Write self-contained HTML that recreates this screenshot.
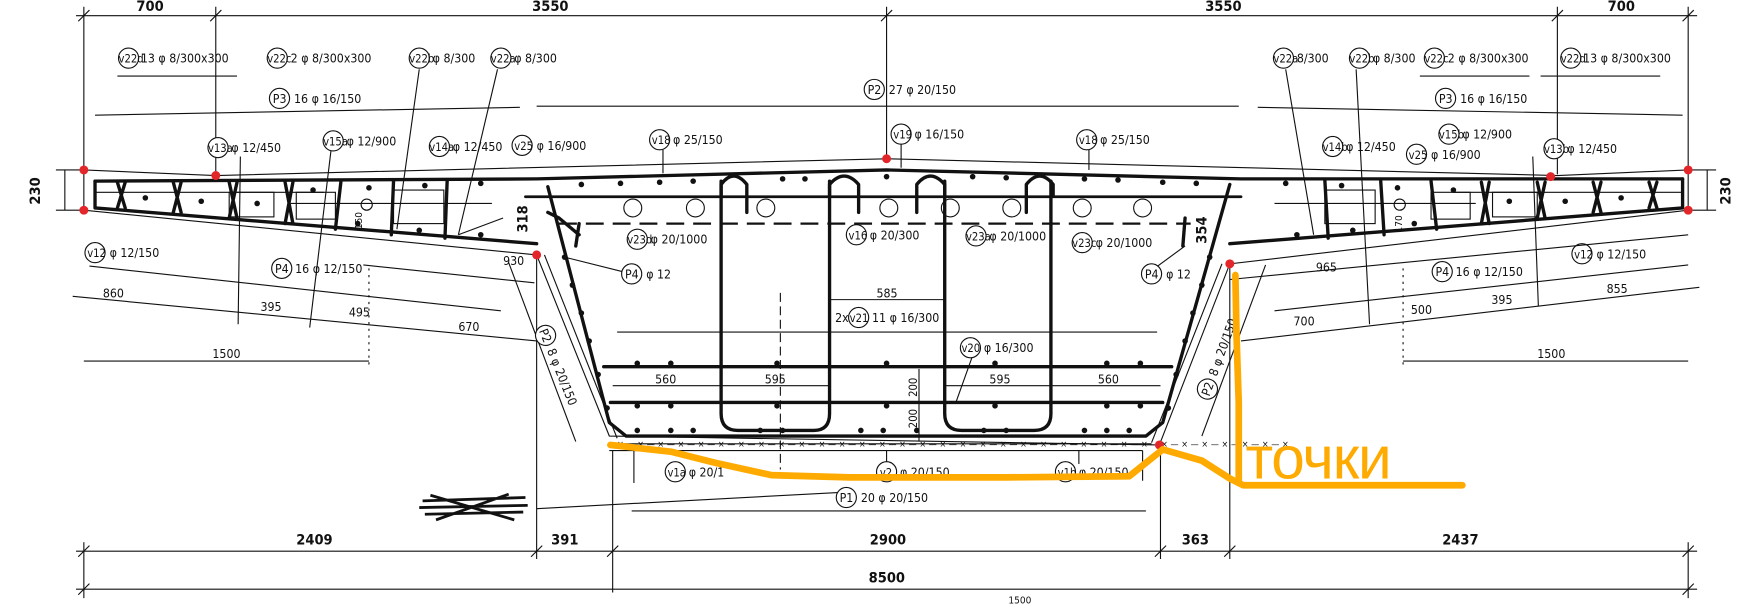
<!DOCTYPE html>
<html><head><meta charset="utf-8"><style>
html,body{margin:0;padding:0;background:#fff;}
svg{display:block;}
text{font-family:"DejaVu Sans Condensed","Liberation Sans",sans-serif;font-size:11px;fill:#111;}
.t{stroke:#111;stroke-width:1;fill:none;}
.k{stroke:#111;stroke-width:3;fill:none;stroke-linecap:round;stroke-linejoin:round;}
.c{stroke:#111;stroke-width:1;fill:#fff;}
.d{fill:#111;}
.r{fill:#e3262a;}
.o{stroke:#FFAA00;stroke-width:6;fill:none;stroke-linecap:round;stroke-linejoin:round;}
.big{font-size:13px;font-weight:bold;}
</style></head><body>
<svg width="1753" height="606" viewBox="0 0 1753 606" xmlns="http://www.w3.org/2000/svg">
<rect width="1753" height="606" fill="#fff"/>
<g transform="scale(1.118)">
<!-- top dimension -->
<line class="t" x1="68" y1="14" x2="1518" y2="14"/>
<g class="t">
<line x1="75" y1="6" x2="75" y2="150"/><line x1="193" y1="6" x2="193" y2="155"/>
<line x1="793" y1="6" x2="793" y2="140"/><line x1="1393" y1="6" x2="1393" y2="156"/>
<line x1="1510" y1="6" x2="1510" y2="150"/>
<line x1="70" y1="19" x2="80" y2="9"/><line x1="188" y1="19" x2="198" y2="9"/><line x1="788" y1="19" x2="798" y2="9"/><line x1="1388" y1="19" x2="1398" y2="9"/><line x1="1505" y1="19" x2="1515" y2="9"/>
</g>
<text x="122" y="10" class="big">700</text><text x="476" y="10" class="big">3550</text><text x="1078" y="10" class="big">3550</text><text x="1438" y="10" class="big">700</text>

<!-- top labels -->
<g>
<circle class="c" cx="115" cy="52" r="9"/><text x="106" y="56" style="font-size:10px">v22d</text><text x="126" y="56">13 φ 8/300x300</text>
<circle class="c" cx="248" cy="52" r="9"/><text x="239" y="56" style="font-size:10px">v22c</text><text x="260" y="56">2 φ 8/300x300</text>
<circle class="c" cx="375" cy="52" r="9"/><text x="366" y="56" style="font-size:10px">v22b</text><text x="387" y="56">φ 8/300</text>
<circle class="c" cx="448" cy="52" r="9"/><text x="439" y="56" style="font-size:10px">v22a</text><text x="460" y="56">φ 8/300</text>
<circle class="c" cx="1148" cy="52" r="9"/><text x="1139" y="56" style="font-size:10px">v22a</text><text x="1160" y="56">8/300</text>
<circle class="c" cx="1216" cy="52" r="9"/><text x="1207" y="56" style="font-size:10px">v22b</text><text x="1228" y="56">φ 8/300</text>
<circle class="c" cx="1283" cy="52" r="9"/><text x="1274" y="56" style="font-size:10px">v22c</text><text x="1295" y="56">2 φ 8/300x300</text>
<circle class="c" cx="1405" cy="52" r="9"/><text x="1396" y="56" style="font-size:10px">v22d</text><text x="1416" y="56">13 φ 8/300x300</text>
</g>
<g class="t">
<line x1="105" y1="68" x2="212" y2="68"/><line x1="1270" y1="68" x2="1368" y2="68"/><line x1="1378" y1="68" x2="1485" y2="68"/>
<line x1="85" y1="103" x2="465" y2="96"/><line x1="480" y1="95" x2="1108" y2="95"/><line x1="1125" y1="96" x2="1505" y2="103"/>
<line x1="375" y1="62" x2="355" y2="205"/><line x1="445" y1="62" x2="410" y2="210"/>
<line x1="1150" y1="62" x2="1175" y2="210"/><line x1="1213" y1="62" x2="1225" y2="290"/>
<line x1="593" y1="134" x2="593" y2="155"/><line x1="974" y1="134" x2="974" y2="152"/><line x1="806" y1="129" x2="806" y2="150"/>
</g>
<circle class="c" cx="250" cy="88" r="9"/><text x="244" y="92">P3</text><text x="263" y="92">16 φ 16/150</text>
<circle class="c" cx="782" cy="80" r="9"/><text x="776" y="84">P2</text><text x="795" y="84">27 φ 20/150</text>
<circle class="c" cx="1293" cy="88" r="9"/><text x="1287" y="92">P3</text><text x="1306" y="92">16 φ 16/150</text>

<g style="font-size:10px">
<circle class="c" cx="195" cy="132" r="9"/><text x="186" y="136" style="font-size:10px">v13a</text><text x="207" y="136">φ 12/450</text>
<circle class="c" cx="298" cy="126" r="9"/><text x="289" y="130" style="font-size:10px">v15a</text><text x="310" y="130">φ 12/900</text>
<circle class="c" cx="393" cy="131" r="9"/><text x="384" y="135" style="font-size:10px">v14a</text><text x="405" y="135">φ 12/450</text>
<circle class="c" cx="467" cy="130" r="9"/><text x="460" y="134" style="font-size:10px">v25</text><text x="480" y="134">φ 16/900</text>
<circle class="c" cx="590" cy="125" r="9"/><text x="583" y="129" style="font-size:10px">v18</text><text x="602" y="129">φ 25/150</text>
<circle class="c" cx="806" cy="120" r="9"/><text x="799" y="124" style="font-size:10px">v19</text><text x="818" y="124">φ 16/150</text>
<circle class="c" cx="972" cy="125" r="9"/><text x="965" y="129" style="font-size:10px">v18</text><text x="984" y="129">φ 25/150</text>
<circle class="c" cx="1192" cy="131" r="9"/><text x="1183" y="135" style="font-size:10px">v14b</text><text x="1204" y="135">φ 12/450</text>
<circle class="c" cx="1296" cy="120" r="9"/><text x="1287" y="124" style="font-size:10px">v15b</text><text x="1308" y="124">φ 12/900</text>
<circle class="c" cx="1267" cy="138" r="9"/><text x="1260" y="142" style="font-size:10px">v25</text><text x="1280" y="142">φ 16/900</text>
<circle class="c" cx="1390" cy="133" r="9"/><text x="1381" y="137" style="font-size:10px">v13b</text><text x="1402" y="137">φ 12/450</text>
</g>

<!-- concrete outline (thin) -->
<g class="t">
<polyline points="75,152 193,157 793,142 1393,157 1510,152"/>
<polyline points="75,188 480,228 545,390 1037,398 1100,236 1510,188"/>
<line x1="75" y1="152" x2="75" y2="188"/><line x1="1510" y1="152" x2="1510" y2="188"/>
<line x1="545" y1="403" x2="1022" y2="403"/><line x1="548" y1="403" x2="548" y2="530"/><line x1="1022" y1="403" x2="1022" y2="430"/>
<line x1="480" y1="228" x2="480" y2="500"/><line x1="1038" y1="398" x2="1038" y2="500"/><line x1="1100" y1="236" x2="1100" y2="500"/>
<line x1="487" y1="228" x2="552" y2="392"/>
<line x1="1093" y1="236" x2="1030" y2="396"/>
</g>
<line x1="552" y1="397" x2="1030" y2="397" stroke="#111" stroke-width="1"/>
<text x="552" y="400" style="font-size:8px;letter-spacing:2.4px">×—×—×—×—×—×—×—×—×—×—×—×—×—×—×—×—×—×—×—×—×—×—×—×—×—×—×—×—×—×—×—×—×—×</text>

<!-- thick rebar -->
<g class="k">
<polyline points="85,162 480,160 793,152 1110,160 1505,160"/>
<polyline points="85,162 85,186 480,218"/>
<polyline points="1505,160 1505,186 1100,218"/>
<polyline points="490,167 545,378 560,390 1025,390 1040,378 1100,165"/>
<line x1="470" y1="176" x2="1110" y2="176" stroke-width="2.5"/>
<line x1="540" y1="328" x2="1048" y2="328"/>
<line x1="546" y1="360" x2="1040" y2="360"/>
<path d="M645,162 V370 Q645,385 660,385 H728 Q742,385 742,370 V162"/>
<path d="M845,162 V370 Q845,385 860,385 H925 Q940,385 940,370 V162"/>
<path d="M645,175 V165 Q656,150 668,165 V190"/>
<path d="M742,175 V165 Q755,150 768,165 V190"/>
<path d="M820,190 V165 Q832,150 845,165 V175"/>
<path d="M918,190 V165 Q930,150 942,165 V175"/>
<polyline points="490,190 500,195 518,210"/>
<line x1="518" y1="200" x2="515" y2="220"/>
<line x1="1060" y1="195" x2="1058" y2="220"/>
</g>
<line x1="500" y1="200" x2="1065" y2="200" stroke="#111" stroke-width="2" stroke-dasharray="16,8"/>
<g class="t">
<circle cx="566" cy="186" r="8"/><circle cx="622" cy="186" r="8"/><circle cx="685" cy="186" r="8"/><circle cx="795" cy="186" r="8"/><circle cx="850" cy="186" r="8"/><circle cx="905" cy="186" r="8"/><circle cx="968" cy="186" r="8"/><circle cx="1022" cy="186" r="8"/>
<circle cx="328" cy="183" r="5"/><circle cx="1252" cy="183" r="5"/>
</g>
<g class="t" stroke-width="1.5">
<rect x="205" y="172" width="40" height="22"/><rect x="265" y="172" width="35" height="24"/><rect x="352" y="170" width="45" height="30"/>
<rect x="1185" y="170" width="45" height="30"/><rect x="1280" y="172" width="35" height="24"/><rect x="1335" y="172" width="40" height="22"/>
<line x1="85" y1="172" x2="290" y2="172"/><line x1="1300" y1="172" x2="1505" y2="172"/>
<line x1="260" y1="182" x2="440" y2="182"/><line x1="1140" y1="182" x2="1320" y2="182"/>
</g>
<g class="k" stroke-width="2">
<path d="M105,163 L112,186 M112,163 L105,186"/><path d="M155,163 L162,190 M162,163 L155,190"/><path d="M205,163 L212,195 M212,163 L205,195"/>
<path d="M255,163 L262,200 M262,163 L255,200"/><path d="M305,162 L300,205"/><path d="M352,162 L350,210"/><path d="M400,161 L398,213"/>
<path d="M1475,163 L1482,186 M1482,163 L1475,186"/><path d="M1425,163 L1432,190 M1432,163 L1425,190"/><path d="M1375,163 L1382,195 M1382,163 L1375,195"/>
<path d="M1325,163 L1332,200 M1332,163 L1325,200"/><path d="M1280,162 L1285,205"/><path d="M1235,162 L1238,210"/><path d="M1185,161 L1188,213"/>
</g>
<g class="d">
<circle cx="130" cy="177" r="2.5"/><circle cx="180" cy="180" r="2.5"/><circle cx="230" cy="182" r="2.5"/><circle cx="280" cy="170" r="2.5"/><circle cx="330" cy="168" r="2.5"/><circle cx="380" cy="166" r="2.5"/><circle cx="430" cy="164" r="2.5"/><circle cx="320" cy="200" r="2.5"/><circle cx="375" cy="206" r="2.5"/><circle cx="430" cy="210" r="2.5"/>
<circle cx="520" cy="165" r="2.5"/><circle cx="555" cy="164" r="2.5"/><circle cx="590" cy="163" r="2.5"/><circle cx="620" cy="162" r="2.5"/><circle cx="700" cy="160" r="2.5"/><circle cx="720" cy="160" r="2.5"/><circle cx="793" cy="158" r="2.5"/><circle cx="870" cy="158" r="2.5"/><circle cx="900" cy="159" r="2.5"/><circle cx="970" cy="160" r="2.5"/><circle cx="1000" cy="161" r="2.5"/><circle cx="1040" cy="163" r="2.5"/><circle cx="1070" cy="164" r="2.5"/>
<circle cx="1150" cy="164" r="2.5"/><circle cx="1200" cy="166" r="2.5"/><circle cx="1250" cy="168" r="2.5"/><circle cx="1300" cy="170" r="2.5"/><circle cx="1350" cy="180" r="2.5"/><circle cx="1400" cy="180" r="2.5"/><circle cx="1450" cy="177" r="2.5"/><circle cx="1160" cy="210" r="2.5"/><circle cx="1210" cy="206" r="2.5"/><circle cx="1265" cy="200" r="2.5"/>
<circle cx="505" cy="230" r="2.5"/><circle cx="512" cy="255" r="2.5"/><circle cx="520" cy="280" r="2.5"/><circle cx="527" cy="305" r="2.5"/><circle cx="535" cy="335" r="2.5"/><circle cx="543" cy="365" r="2.5"/>
<circle cx="1082" cy="230" r="2.5"/><circle cx="1075" cy="255" r="2.5"/><circle cx="1067" cy="280" r="2.5"/><circle cx="1060" cy="305" r="2.5"/><circle cx="1052" cy="335" r="2.5"/><circle cx="1045" cy="365" r="2.5"/>
<circle cx="570" cy="385" r="2.5"/><circle cx="600" cy="385" r="2.5"/><circle cx="620" cy="385" r="2.5"/><circle cx="680" cy="385" r="2.5"/><circle cx="700" cy="385" r="2.5"/><circle cx="770" cy="385" r="2.5"/><circle cx="790" cy="385" r="2.5"/><circle cx="820" cy="385" r="2.5"/><circle cx="880" cy="385" r="2.5"/><circle cx="900" cy="385" r="2.5"/><circle cx="970" cy="385" r="2.5"/><circle cx="990" cy="385" r="2.5"/><circle cx="1010" cy="385" r="2.5"/>
<circle cx="570" cy="325" r="2.5"/><circle cx="600" cy="325" r="2.5"/><circle cx="695" cy="325" r="2.5"/><circle cx="793" cy="325" r="2.5"/><circle cx="890" cy="325" r="2.5"/><circle cx="990" cy="325" r="2.5"/><circle cx="1020" cy="325" r="2.5"/>
<circle cx="570" cy="363" r="2.5"/><circle cx="600" cy="363" r="2.5"/><circle cx="695" cy="363" r="2.5"/><circle cx="793" cy="363" r="2.5"/><circle cx="890" cy="363" r="2.5"/><circle cx="990" cy="363" r="2.5"/><circle cx="1020" cy="363" r="2.5"/>
</g>
<g class="t">
<line x1="552" y1="297" x2="1035" y2="297"/>
<line x1="742" y1="268" x2="845" y2="268"/>
<line x1="548" y1="345" x2="645" y2="345"/><line x1="645" y1="345" x2="742" y2="345"/><line x1="845" y1="345" x2="940" y2="345"/><line x1="940" y1="345" x2="1038" y2="345"/>
<line x1="822" y1="330" x2="822" y2="395"/>
<line x1="698" y1="262" x2="698" y2="420" stroke-dasharray="8,4"/>
<line x1="855" y1="360" x2="870" y2="318"/>
<line x1="505" y1="230" x2="565" y2="245"/><line x1="1060" y1="220" x2="1030" y2="242"/>
<line x1="450" y1="195" x2="410" y2="210"/>
</g>
<text x="784" y="266">585</text>
<text x="747" y="288">2x</text><circle class="c" cx="768" cy="284" r="9"/><text x="760" y="288" style="font-size:10px">v21</text><text x="780" y="288">11 φ 16/300</text>
<circle class="c" cx="868" cy="311" r="9"/><text x="860" y="315" style="font-size:10px">v20</text><text x="880" y="315">φ 16/300</text>
<text x="586" y="343">560</text><text x="684" y="343">595</text><text x="885" y="343">595</text><text x="982" y="343">560</text>
<text x="0" y="0" transform="translate(820,355) rotate(-90)" style="font-size:10px">200</text>
<text x="0" y="0" transform="translate(820,383) rotate(-90)" style="font-size:10px">200</text>
<text x="0" y="0" transform="translate(472,208) rotate(-90)" class="big">318</text>
<text x="0" y="0" transform="translate(1079,218) rotate(-90)" class="big">354</text>
<text x="0" y="0" transform="translate(324,205) rotate(-90)" style="font-size:9px">150</text>
<text x="0" y="0" transform="translate(1254,208) rotate(-90)" style="font-size:9px">170</text>

<circle class="c" cx="570" cy="214" r="9"/><text x="561" y="218" style="font-size:10px">v23d</text><text x="582" y="218">φ 20/1000</text>
<circle class="c" cx="565" cy="245" r="9"/><text x="559" y="249">P4</text><text x="578" y="249">φ 12</text>
<circle class="c" cx="766" cy="210" r="9"/><text x="759" y="214" style="font-size:10px">v16</text><text x="778" y="214">φ 20/300</text>
<circle class="c" cx="873" cy="211" r="9"/><text x="864" y="215" style="font-size:10px">v23a</text><text x="885" y="215">φ 20/1000</text>
<circle class="c" cx="968" cy="217" r="9"/><text x="959" y="221" style="font-size:10px">v23c</text><text x="980" y="221">φ 20/1000</text>
<circle class="c" cx="1030" cy="245" r="9"/><text x="1024" y="249">P4</text><text x="1043" y="249">φ 12</text>
<circle class="c" cx="85" cy="226" r="9"/><text x="78" y="230" style="font-size:10px">v12</text><text x="98" y="230">φ 12/150</text>
<circle class="c" cx="252" cy="240" r="9"/><text x="246" y="244">P4</text><text x="264" y="244">16 φ 12/150</text>
<circle class="c" cx="1290" cy="243" r="9"/><text x="1284" y="247">P4</text><text x="1302" y="247">16 φ 12/150</text>
<circle class="c" cx="1415" cy="227" r="9"/><text x="1408" y="231" style="font-size:10px">v12</text><text x="1428" y="231">φ 12/150</text>

<g class="t">
<line x1="80" y1="238" x2="448" y2="278"/>
<line x1="325" y1="237" x2="478" y2="253"/>
<line x1="65" y1="265" x2="480" y2="305"/>
<line x1="75" y1="323" x2="330" y2="323"/>
<line x1="330" y1="240" x2="330" y2="330" stroke-dasharray="2,4"/>
<line x1="455" y1="235" x2="515" y2="395"/>
<line x1="1510" y1="237" x2="1140" y2="278"/>
<line x1="1100" y1="250" x2="1510" y2="210"/>
<line x1="1110" y1="305" x2="1520" y2="257"/>
<line x1="1255" y1="323" x2="1510" y2="323"/>
<line x1="1255" y1="240" x2="1255" y2="330" stroke-dasharray="2,4"/>
<line x1="1132" y1="237" x2="1075" y2="390"/>
<line x1="215" y1="140" x2="213" y2="290"/><line x1="296" y1="135" x2="277" y2="293"/><line x1="1371" y1="140" x2="1376" y2="274"/>
</g>
<text x="450" y="237">930</text><text x="92" y="266">860</text><text x="233" y="278">395</text><text x="312" y="283">495</text><text x="410" y="296">670</text><text x="190" y="320">1500</text>
<text x="1177" y="243">965</text><text x="1262" y="281">500</text><text x="1334" y="272">395</text><text x="1437" y="262">855</text><text x="1157" y="291">700</text><text x="1375" y="320">1500</text>
<g transform="translate(488,300) rotate(68)"><circle class="c" cx="0" cy="0" r="9"/><text x="-6" y="4">P2</text><text x="13" y="4">8 φ 20/150</text></g>
<g transform="translate(1080,348) rotate(-70)"><circle class="c" cx="0" cy="0" r="9"/><text x="-6" y="4">P2</text><text x="13" y="4">8 φ 20/150</text></g>

<g class="t">
<line x1="567" y1="403" x2="567" y2="432"/><line x1="793" y1="403" x2="793" y2="415"/><line x1="965" y1="403" x2="965" y2="415"/>
<line x1="565" y1="457" x2="1025" y2="457"/>
<line x1="480" y1="455" x2="760" y2="440"/>
</g>
<circle class="c" cx="604" cy="422" r="9"/><text x="597" y="426" style="font-size:10px">v1a</text><text x="616" y="426">φ 20/1</text>
<circle class="c" cx="793" cy="422" r="9"/><text x="787" y="426" style="font-size:10px">v2</text><text x="805" y="426">φ 20/150</text>
<circle class="c" cx="953" cy="422" r="9"/><text x="946" y="426" style="font-size:10px">v1b</text><text x="965" y="426">φ 20/150</text>
<circle class="c" cx="757" cy="445" r="9"/><text x="751" y="449">P1</text><text x="770" y="449">20 φ 20/150</text>
<path d="M378,448 L470,445 M375,454 L472,452 M380,460 L468,458 M385,443 L460,465 M390,465 L455,442" stroke="#111" stroke-width="2.5" fill="none"/>

<g class="t">
<line x1="68" y1="493" x2="1518" y2="493"/>
<line x1="68" y1="527" x2="1518" y2="527"/>
<line x1="75" y1="485" x2="75" y2="535"/><line x1="1510" y1="485" x2="1510" y2="535"/>
<line x1="70" y1="498" x2="80" y2="488"/><line x1="475" y1="498" x2="485" y2="488"/><line x1="543" y1="498" x2="553" y2="488"/><line x1="1033" y1="498" x2="1043" y2="488"/><line x1="1095" y1="498" x2="1105" y2="488"/><line x1="1505" y1="498" x2="1515" y2="488"/>
<line x1="70" y1="532" x2="80" y2="522"/><line x1="1505" y1="532" x2="1515" y2="522"/>
</g>
<text x="265" y="487" class="big">2409</text><text x="493" y="487" class="big">391</text><text x="778" y="487" class="big">2900</text><text x="1057" y="487" class="big">363</text><text x="1290" y="487" class="big">2437</text>
<text x="777" y="521" class="big">8500</text>
<text x="902" y="540" style="font-size:9px">1500</text>
<text x="0" y="0" transform="translate(36,183) rotate(-90)" class="big">230</text>
<text x="0" y="0" transform="translate(1548,183) rotate(-90)" class="big">230</text>
<g class="t"><line x1="50" y1="152" x2="75" y2="152"/><line x1="50" y1="188" x2="75" y2="188"/><line x1="58" y1="152" x2="58" y2="188"/><line x1="1510" y1="152" x2="1535" y2="152"/><line x1="1510" y1="188" x2="1535" y2="188"/><line x1="1527" y1="152" x2="1527" y2="188"/></g>

<g class="r">
<circle cx="75" cy="152" r="4"/><circle cx="75" cy="188" r="4"/><circle cx="193" cy="157" r="4"/><circle cx="793" cy="142" r="4"/><circle cx="1387" cy="158" r="4"/><circle cx="1510" cy="152" r="4"/><circle cx="1510" cy="188" r="4"/>
<circle cx="480" cy="228" r="4"/><circle cx="1100" cy="236" r="4"/><circle cx="1037" cy="398" r="4"/>
</g>

<polyline class="o" points="546,398 600,404 640,414 690,425 760,427 900,427 1010,426 1040,402"/>
<polyline class="o" points="1040,402 1075,412 1100,428 1112,434 1200,434 1308,434"/>
<path class="o" d="M1105,246 L1106,300 L1108,360 L1108,432"/>
<text x="1114" y="428" style="font-family:'Liberation Sans',sans-serif;font-size:54px;fill:#FFAA00;letter-spacing:-1px">точки</text>
</g>
</svg>
</body></html>
